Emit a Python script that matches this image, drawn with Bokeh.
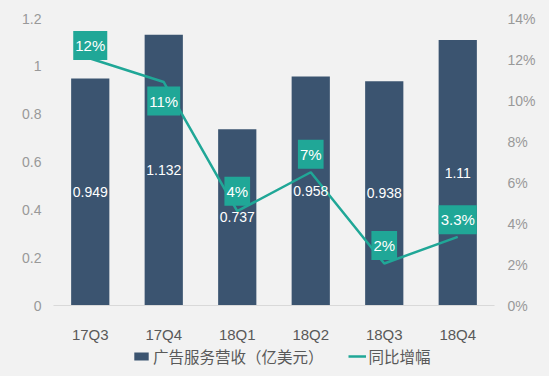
from bokeh.plotting import figure
from bokeh.layouts import column
from bokeh.models import (Range1d, LinearAxis, FixedTicker, PrintfTickFormatter,
                          CustomJSTickFormatter, ColumnDataSource, Legend, LegendItem)
from bokeh.core.properties import value
from bokeh.embed import file_html
from bokeh.resources import INLINE

# ---- data ----
quarters = ["17Q3", "17Q4", "18Q1", "18Q2", "18Q3", "18Q4"]
revenue = [0.949, 1.132, 0.737, 0.958, 0.938, 1.11]
revenue_labels = ["0.949", "1.132", "0.737", "0.958", "0.938", "1.11"]
growth = [12.05, 10.9, 4.6, 6.5, 2.05, 3.35]
growth_labels = ["12%", "11%", "4%", "7%", "2%", "3.3%"]
bar_name = "广告服务营收（亿美元）"
line_name = "同比增幅"

# ---- styles ----
BAR = "#3b5470"
TEAL = "#20a797"
BG = "#f2f2f2"
NUMFONT = "Liberation Sans"
CJK = "Noto Sans CJK SC"
label_dy = [-13, 19, -20, -18, -18, -17]

src = ColumnDataSource(dict(
    q=quarters, rev=revenue, rev_mid=[v / 2 for v in revenue], rev_lab=revenue_labels,
    g=growth, g_lab=growth_labels, dy=label_dy,
))

p = figure(width=549, height=345, x_range=quarters, y_range=Range1d(0, 1.2),
           output_backend="svg", toolbar_location=None,
           min_border_left=53, min_border_right=55, min_border_top=18, min_border_bottom=40)
p.background_fill_color = BG
p.border_fill_color = BG
p.outline_line_color = None
p.grid.visible = False
p.extra_y_ranges = {"pct": Range1d(0, 14)}

bars = p.vbar(x="q", top="rev", width=0.52, source=src, fill_color=BAR, line_color=None)
line = p.line(x="q", y="g", source=src, y_range_name="pct", line_color=TEAL, line_width=2.5)

p.text(x="q", y="rev_mid", text="rev_lab", source=src, text_color="white",
       text_font=value(NUMFONT), text_font_size="14px", text_align="center",
       text_baseline="middle")

p.text(x="q", y="g", text="g_lab", source=src, y_range_name="pct", y_offset="dy",
       text_color="white", text_font=value(NUMFONT), text_font_size="15px",
       text_align="center", text_baseline="middle",
       background_fill_color=TEAL, padding=dict(top=6, right=2, bottom=6, left=2))

# axes
xa = p.xaxis[0]
xa.axis_line_color = "#d9d9d9"
xa.axis_line_width = 1
xa.major_tick_line_color = None
xa.minor_tick_line_color = None
xa.major_tick_out = 0
xa.major_tick_in = 0
xa.major_label_standoff = 20
xa.major_label_text_color = "#595959"
xa.major_label_text_font = NUMFONT
xa.major_label_text_font_size = "15px"

ya = p.yaxis[0]
ya.ticker = FixedTicker(ticks=[0, 0.2, 0.4, 0.6, 0.8, 1.0, 1.2])
ya.formatter = CustomJSTickFormatter(code="return tick.toFixed(1).replace(/\\.0$/, '')")
ya.axis_line_color = None
ya.major_tick_line_color = None
ya.minor_tick_line_color = None
ya.major_tick_out = 0
ya.major_tick_in = 0
ya.major_label_standoff = 12
ya.major_label_text_color = "#999999"
ya.major_label_text_font = NUMFONT
ya.major_label_text_font_size = "14px"

ra = LinearAxis(y_range_name="pct", ticker=FixedTicker(ticks=list(range(0, 15, 2))),
                formatter=PrintfTickFormatter(format="%d%%"))
ra.axis_line_color = None
ra.major_tick_line_color = None
ra.minor_tick_line_color = None
ra.major_tick_out = 0
ra.major_tick_in = 0
ra.major_label_standoff = 13
ra.major_label_text_color = "#999999"
ra.major_label_text_font = NUMFONT
ra.major_label_text_font_size = "14px"
p.add_layout(ra, "right")

# legend strip (same data; its y range is set above the data so only the legend shows)
lg = figure(width=549, height=31, output_backend="svg", toolbar_location=None,
            x_axis_location=None, y_axis_location=None,
            x_range=quarters, y_range=Range1d(100, 101),
            min_border_left=0, min_border_right=0, min_border_top=0, min_border_bottom=0)
lg.background_fill_color = BG
lg.border_fill_color = BG
lg.outline_line_color = None
lg.grid.visible = False
lb = lg.vbar(x="q", top="rev", width=0.52, source=src, fill_color=BAR, line_color=None)
ll = lg.line(x="q", y="g", source=src, line_color=TEAL, line_width=2.5)

legend = Legend(items=[LegendItem(label=bar_name, renderers=[lb]),
                       LegendItem(label=line_name, renderers=[ll])],
                orientation="horizontal", location=(79, 9),
                background_fill_alpha=0, border_line_color=None,
                padding=0, margin=0, spacing=24, label_standoff=3,
                glyph_width=18, glyph_height=10, label_height=20,
                label_text_font=CJK, label_text_font_size="15.5px",
                label_text_color="#595959")
lg.add_layout(legend, "center")

layout = column(p, lg, spacing=0, styles={"background-color": BG})
open("out.html", "w").write(file_html(layout, INLINE))
